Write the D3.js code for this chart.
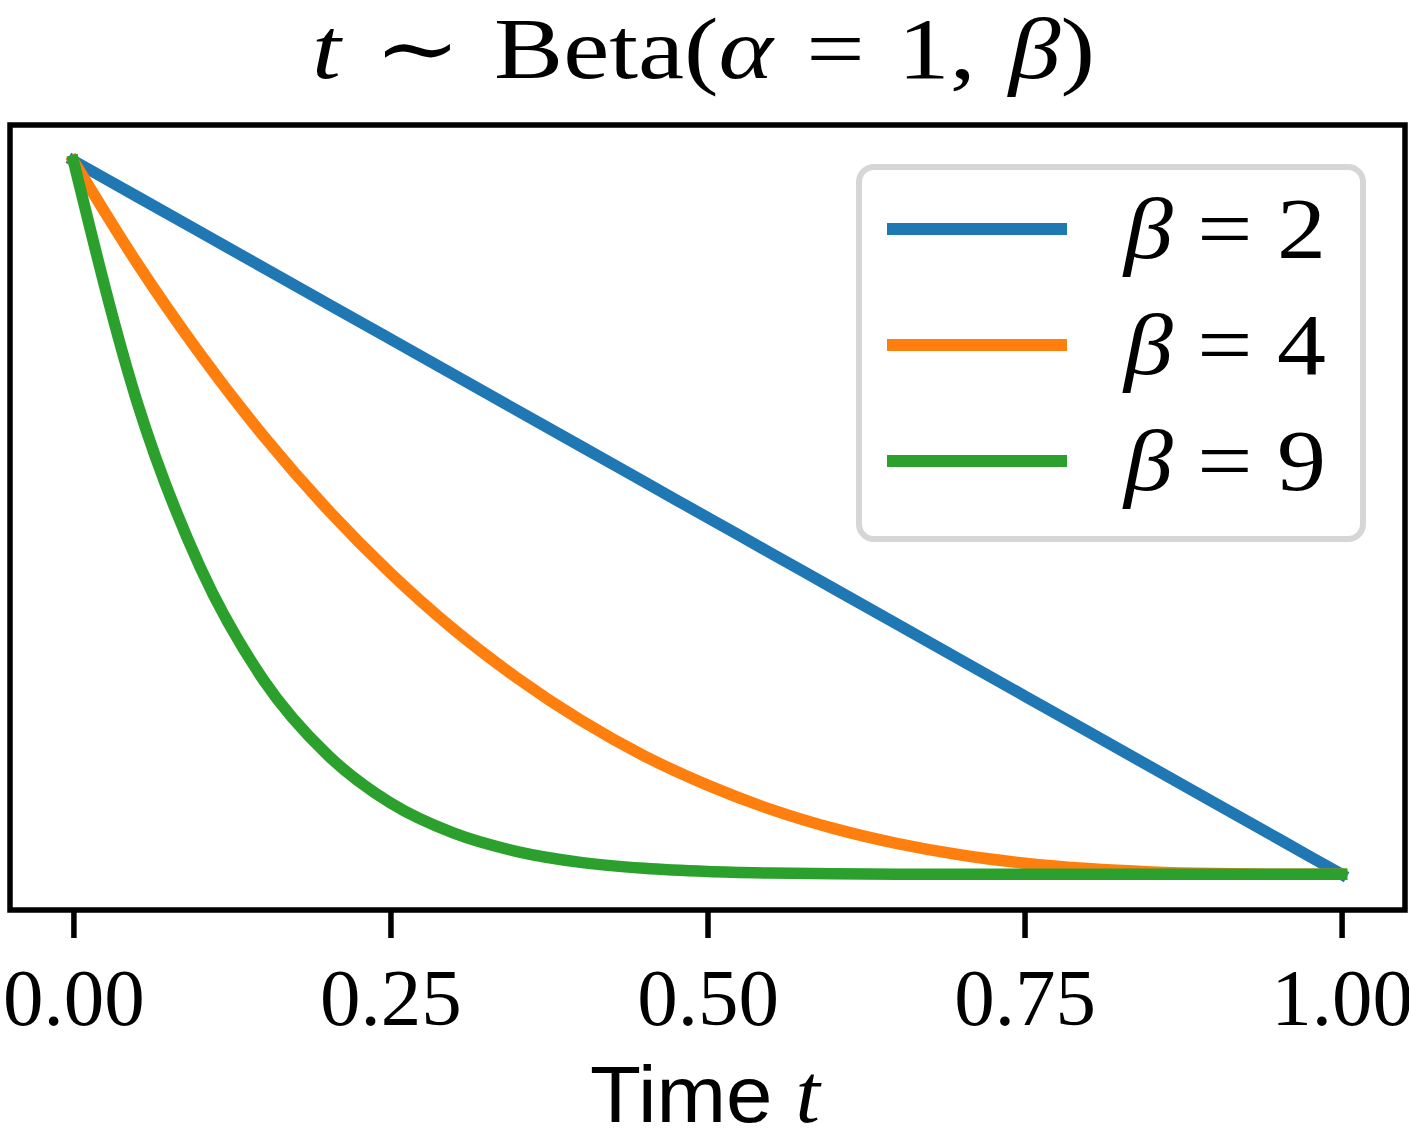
<!DOCTYPE html>
<html>
<head>
<meta charset="utf-8">
<script src="https://cdn.jsdelivr.net/npm/d3@7"></script>
<style>
  body { margin: 0; background: #fff; }
  .serif { font-family: "Liberation Serif", "DejaVu Serif", serif; }
  .sans { font-family: "Liberation Sans", "DejaVu Sans", sans-serif; }
</style>
</head>
<body>
<svg id="chart" width="1409" height="1133"></svg>
<script>
// values (normalised density, max = 1)
const tValues = [0, 0.05, 0.1, 0.15, 0.2, 0.25, 0.3, 0.35, 0.4, 0.45, 0.5,
                 0.55, 0.6, 0.65, 0.7, 0.75, 0.8, 0.85, 0.9, 0.95, 1];
const beta2 = [1, 0.95, 0.9, 0.85, 0.8, 0.75, 0.7, 0.65, 0.6, 0.55, 0.5,
               0.45, 0.4, 0.35, 0.3, 0.25, 0.2, 0.15, 0.1, 0.05, 0];
const beta4 = [1, 0.857, 0.729, 0.614, 0.512, 0.422, 0.343, 0.275, 0.216, 0.166, 0.125,
               0.091, 0.064, 0.043, 0.027, 0.0156, 0.008, 0.0034, 0.001, 0.0001, 0];
const beta9 = [1, 0.663, 0.43, 0.272, 0.168, 0.1, 0.0576, 0.0319, 0.0168, 0.0084, 0.0039,
               0.0017, 0.0007, 0.0002, 0.00007, 0.00002, 0, 0, 0, 0, 0];
const seriesNames = ["2", "4", "9"];
const seriesColors = ["#1f77b4", "#ff7f0e", "#2ca02c"];
const xTicks = [0, 0.25, 0.5, 0.75, 1];

const svg = d3.select("#chart");

// axes box in pixels
const boxLeft = 10, boxRight = 1405, boxTop = 125, boxBottom = 910;

const x = d3.scaleLinear().domain([-0.05, 1.05]).range([boxLeft, boxRight]);
const y = d3.scaleLinear().domain([-0.05, 1.05]).range([boxBottom, boxTop]);

const allSeries = [beta2, beta4, beta9];

const line = d3.line()
    .x((d, i) => x(tValues[i]))
    .y(d => y(d))
    .curve(d3.curveMonotoneX);

const plot = svg.append("g");
plot.append("defs").append("clipPath").attr("id", "clip")
    .append("rect").attr("x", boxLeft).attr("y", boxTop)
    .attr("width", boxRight - boxLeft).attr("height", boxBottom - boxTop);

plot.append("g").attr("clip-path", "url(#clip)")
  .selectAll("path.series")
  .data(allSeries)
  .join("path")
    .attr("class", "series")
    .attr("d", line)
    .attr("fill", "none")
    .attr("stroke", (d, i) => seriesColors[i])
    .attr("stroke-width", 11.5)
    .attr("stroke-linejoin", "round")
    .attr("stroke-linecap", "square");

// frame
svg.append("rect")
    .attr("x", boxLeft).attr("y", boxTop)
    .attr("width", boxRight - boxLeft).attr("height", boxBottom - boxTop)
    .attr("fill", "none").attr("stroke", "#000").attr("stroke-width", 5.5);

// x axis
const xAxis = d3.axisBottom(x)
    .tickValues(xTicks)
    .tickSize(28)
    .tickPadding(0)
    .tickFormat(d3.format(".2f"));

const ax = svg.append("g")
    .attr("transform", `translate(0,${boxBottom})`)
    .call(xAxis);
ax.select(".domain").remove();
ax.selectAll(".tick line").attr("stroke", "#000").attr("stroke-width", 5.5);
ax.selectAll(".tick text")
    .attr("class", "serif")
    .attr("font-size", 81)
    .attr("fill", "#000")
    .attr("dy", null)
    .attr("y", 115);

// x label
const xl = svg.append("text")
    .attr("x", 590)
    .attr("y", 1122)
    .attr("font-size", 80)
    .attr("textLength", 230)
    .attr("lengthAdjust", "spacingAndGlyphs");
xl.append("tspan").attr("class", "sans").text("Time ");
xl.append("tspan").attr("class", "serif").attr("font-style", "italic")
    .attr("font-size", 84).text("t");

// title
const title = svg.append("text")
    .attr("class", "serif")
    .attr("x", 312)
    .attr("y", 78)
    .attr("font-size", 86)
    .attr("word-spacing", 6)
    .attr("textLength", 783)
    .attr("lengthAdjust", "spacingAndGlyphs");
title.append("tspan").attr("font-style", "italic").text("t");
title.append("tspan").text(" ∼ Beta(");
title.append("tspan").attr("font-style", "italic").text("α");
title.append("tspan").text(" = 1, ");
title.append("tspan").attr("font-style", "italic").text("β");
title.append("tspan").text(")");

// legend
const legend = svg.append("g");
legend.append("rect")
    .attr("x", 859).attr("y", 167)
    .attr("width", 504).attr("height", 372)
    .attr("rx", 15).attr("ry", 15)
    .attr("fill", "#fff").attr("stroke", "#d6d6d6").attr("stroke-width", 6);

const legendY = d3.scalePoint().domain(seriesNames).range([229, 461]);

const items = legend.selectAll("g.item")
  .data(seriesNames)
  .join("g")
    .attr("class", "item")
    .attr("transform", d => `translate(0,${legendY(d)})`);

items.append("line")
    .attr("x1", 893).attr("x2", 1061)
    .attr("stroke", (d, i) => seriesColors[i])
    .attr("stroke-width", 12)
    .attr("stroke-linecap", "square");

const labels = items.append("text")
    .attr("class", "serif")
    .attr("x", 1124)
    .attr("y", 29)
    .attr("font-size", 86)
    .attr("textLength", 202)
    .attr("lengthAdjust", "spacingAndGlyphs");
labels.append("tspan").attr("font-style", "italic").text("β");
labels.append("tspan").text(" = ");
labels.append("tspan").text(d => d);
</script>
</body>
</html>
